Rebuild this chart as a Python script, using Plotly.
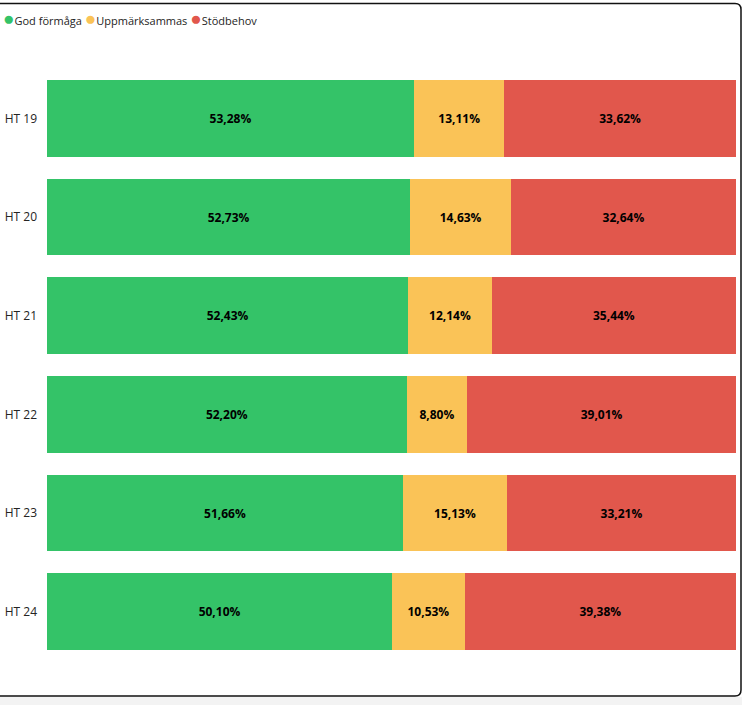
import plotly.graph_objects as go

categories = ["HT 19", "HT 20", "HT 21", "HT 22", "HT 23", "HT 24"]
god_formaga = [53.28, 52.73, 52.43, 52.20, 51.66, 50.10]
uppmarksammas = [13.11, 14.63, 12.14, 8.80, 15.13, 10.53]
stodbehov = [33.62, 32.64, 35.44, 39.01, 33.21, 39.38]
series_names = ["God förmåga", "Uppmärksammas", "Stödbehov"]
colors = ["#34C368", "#FAC357", "#E1574C"]

W, H = 742, 705
ML, MR, MT, MB = 47, 6, 69, 44
PW, PH = W - ML - MR, H - MT - MB


def px(x):
    return (x - ML) / PW


def py(y):
    return 1 - (y - MT) / PH


FONT = "Segoe UI, Open Sans, sans-serif"

fig = go.Figure()
for name, vals, col in zip(series_names, [god_formaga, uppmarksammas, stodbehov], colors):
    fig.add_trace(go.Bar(
        y=categories, x=vals, name=name, orientation="h",
        marker=dict(color=col, line=dict(width=0)),
        texttemplate="%{x:.2f}%", textposition="inside",
        insidetextanchor="middle",
        textfont=dict(family=FONT, size=12, color="#000000", weight="bold"),
        showlegend=False, hoverinfo="skip",
    ))

# legend built from names/colours
legend_text = " ".join(
    f"<span style='color:{c};font-size:19px'>●</span>{n}" for n, c in zip(series_names, colors)
)

# border with rounded right corners
r = 6
x0, x1, y0, y1 = -3, 741, 3.5, 696
path = (
    f"M {px(x0)},{py(y0)} L {px(x1 - r)},{py(y0)} "
    f"Q {px(x1)},{py(y0)} {px(x1)},{py(y0 + r)} "
    f"L {px(x1)},{py(y1 - r)} "
    f"Q {px(x1)},{py(y1)} {px(x1 - r)},{py(y1)} "
    f"L {px(x0)},{py(y1)} Z"
)

fig.update_layout(
    width=W, height=H,
    margin=dict(l=ML, r=MR, t=MT, b=MB, pad=0, autoexpand=False),
    paper_bgcolor="#FFFFFF", plot_bgcolor="#FFFFFF",
    barmode="stack", bargap=0.22,
    separators=", ",
    showlegend=False,
    font=dict(family=FONT, color="#252423"),
    xaxis=dict(range=[0, 100.01], visible=False, fixedrange=True, automargin=False),
    yaxis=dict(autorange="reversed", showgrid=False, zeroline=False, showline=False,
               ticks="", ticklabelstandoff=9, fixedrange=True, automargin=False,
               tickfont=dict(family=FONT, size=12, color="#252423")),
    shapes=[
        dict(type="rect", xref="paper", yref="paper", x0=px(-5), x1=px(W + 5),
             y0=py(697), y1=py(H + 5), fillcolor="#F3F3F3", line=dict(width=0), layer="below"),
        dict(type="path", xref="paper", yref="paper", path=path,
             line=dict(color="#111111", width=1.5), fillcolor="rgba(0,0,0,0)", layer="above"),
    ],
    annotations=[
        dict(text=legend_text, xref="paper", yref="paper", x=px(1), y=py(17.5),
             xanchor="left", yanchor="middle", showarrow=False,
             font=dict(family=FONT, size=11, color="#252423")),
    ],
)

fig.write_html(
    "out.html",
    config={"displayModeBar": False, "staticPlot": True},
    post_script="document.body.style.margin='0';document.body.style.overflow='hidden';",
)
